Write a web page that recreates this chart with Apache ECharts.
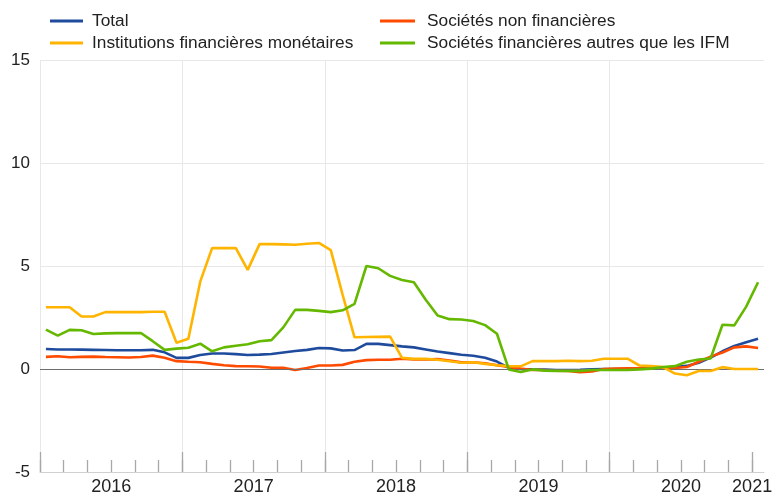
<!DOCTYPE html>
<html><head><meta charset="utf-8">
<script src="https://cdn.jsdelivr.net/npm/echarts@6/dist/echarts.min.js"></script>
<style>html,body{margin:0;padding:0;background:#fff}#c{width:780px;height:496px}</style>
</head><body><div id="c"></div>
<script>
// ---- data ----
const seriesNames = ['Total', 'Sociétés non financières', 'Institutions financières monétaires', 'Sociétés financières autres que les IFM'];
const months = [];
for (let y = 2016; y <= 2021; y++) { for (let m = 1; m <= 12; m++) { if (y === 2021 && m > 1) break; months.push(y + '-' + String(m).padStart(2, '0')); } }

const total = [0.97,0.95,0.95,0.94,0.93,0.92,0.91,0.91,0.91,0.93,0.81,0.54,
  0.54,0.68,0.75,0.75,0.72,0.68,0.70,0.73,0.80,0.87,0.93,1.02,
  1.00,0.90,0.92,1.22,1.22,1.16,1.10,1.05,0.95,0.85,0.77,0.69,
  0.64,0.55,0.36,0.05,0.00,-0.02,-0.03,-0.05,-0.05,-0.04,-0.02,0.00,
  0.00,0.00,0.02,0.03,0.05,0.09,0.15,0.30,0.55,0.86,1.12,1.30,
  1.47];
const snf = [0.59,0.62,0.57,0.59,0.60,0.58,0.57,0.56,0.58,0.65,0.55,0.38,
  0.35,0.33,0.25,0.18,0.14,0.13,0.12,0.06,0.06,-0.05,0.05,0.17,
  0.17,0.20,0.35,0.43,0.45,0.45,0.50,0.46,0.46,0.48,0.41,0.32,
  0.33,0.28,0.18,0.10,0.02,-0.05,-0.05,-0.08,-0.10,-0.15,-0.12,0.00,
  0.02,0.03,0.03,0.02,0.02,0.05,0.10,0.35,0.60,0.80,1.05,1.10,
  1.02];
const ifm = [3.00,3.00,3.00,2.55,2.55,2.76,2.76,2.76,2.76,2.78,2.78,1.27,
  1.47,4.24,5.87,5.87,5.87,4.81,6.06,6.06,6.05,6.03,6.08,6.12,
  5.77,3.60,1.54,1.55,1.56,1.57,0.54,0.49,0.49,0.45,0.38,0.30,
  0.33,0.25,0.18,0.14,0.13,0.38,0.38,0.38,0.40,0.38,0.40,0.50,
  0.50,0.50,0.17,0.14,0.09,-0.22,-0.30,-0.10,-0.10,0.09,0.00,0.00,
  0.00];
const sfa = [1.91,1.62,1.90,1.88,1.70,1.73,1.74,1.74,1.75,1.35,0.93,0.99,
  1.03,1.23,0.86,1.05,1.13,1.20,1.35,1.40,2.02,2.87,2.87,2.82,
  2.76,2.85,3.16,5.00,4.89,4.52,4.32,4.21,3.36,2.60,2.42,2.40,
  2.33,2.13,1.71,-0.02,-0.15,-0.02,-0.08,-0.10,-0.10,-0.10,-0.05,-0.05,
  -0.05,-0.05,-0.02,0.02,0.10,0.14,0.35,0.46,0.51,2.15,2.12,3.03,
  4.21];
const yTicks = [-5, 0, 5, 10, 15];
const yearLabels = ['2016', '2017', '2018', '2019', '2020', '2021'];

// ---- chart ----
const colors = ['#1f4b9d', '#ff4b00', '#ffb400', '#65b800'];
const font = 'Arial, "Liberation Sans", sans-serif';
const nM = months.length;            // 61 monthly bands
const yearStarts = yearLabels.map((_, k) => k * 12);
const yearLabelPos = yearLabels.map((_, k) => k < yearLabels.length - 1 ? k * 12 + 6 : k * 12);
const minorPos = []; for (let v = 0; v <= 60; v += 2) minorPos.push(v);

const chart = echarts.init(document.getElementById('c'), null, {renderer: 'canvas'});
const valueAxisBase = {type: 'value', min: 0, max: nM, gridIndex: 0, position: 'bottom', axisLabel: {show: false}, splitLine: {show: false}, axisLine: {show: false}, axisTick: {show: false}};
const seriesData = [total, snf, ifm, sfa];
chart.setOption({
  animation: false,
  textStyle: {fontFamily: font},
  color: colors,
  grid: {left: 40, right: 16, top: 60, bottom: 23, containLabel: false},
  legend: [
    {left: 50, top: 11, orient: 'vertical', padding: 0, itemGap: 2, itemWidth: 33, itemHeight: 3, icon: 'rect',
     data: [seriesNames[0], seriesNames[2]], textStyle: {fontSize: 17.3, color: '#222', lineHeight: 20, padding: [0, 0, 0, 4]}},
    {left: 380, top: 11, orient: 'vertical', padding: 0, itemGap: 2, itemWidth: 35, itemHeight: 3, icon: 'rect',
     data: [seriesNames[1], seriesNames[3]], textStyle: {fontSize: 17.3, color: '#222', lineHeight: 20, padding: [0, 0, 0, 7]}}
  ],
  xAxis: [
    {type: 'category', data: months, boundaryGap: true, show: false, gridIndex: 0},
    Object.assign({}, valueAxisBase, {
      interval: 12,
      axisLine: {show: true, lineStyle: {color: '#d0d0d0', width: 1}},
      axisTick: {show: true, inside: true, length: 20, customValues: yearStarts, lineStyle: {color: '#a8a8a8', width: 1.3}},
      splitLine: {show: true, showMaxLine: false, lineStyle: {color: '#e8e8e8', width: 1}}
    }),
    Object.assign({}, valueAxisBase, {
      interval: 2,
      axisTick: {show: true, inside: true, length: 12, customValues: minorPos, lineStyle: {color: '#a8a8a8', width: 1.3}}
    }),
    Object.assign({}, valueAxisBase, {
      interval: 6,
      axisLabel: {show: true, customValues: yearLabelPos, fontSize: 18, color: '#222', margin: 6,
        formatter: function (v) { const k = yearLabelPos.indexOf(v); return k >= 0 ? yearLabels[k] : ''; }}
    })
  ],
  yAxis: {
    type: 'value', min: yTicks[0], max: yTicks[yTicks.length - 1], interval: 5,
    axisLine: {show: false}, axisTick: {show: false},
    axisLabel: {fontSize: 17, color: '#222', margin: 10},
    splitLine: {show: true, lineStyle: {color: '#e8e8e8', width: 1}}
  },
  series: seriesNames.map((name, k) => ({
    name: name, type: 'line', xAxisIndex: 0, data: seriesData[k],
    symbol: 'none', showSymbol: false, lineStyle: {width: 2.6, color: colors[k]}, itemStyle: {color: colors[k]},
    z: 3 + k,
    markLine: k === 0 ? {silent: true, symbol: 'none', label: {show: false}, lineStyle: {color: '#6e6e6e', width: 1.2, type: 'solid'}, data: [{yAxis: 0}]} : undefined
  }))
});
</script></body></html>
